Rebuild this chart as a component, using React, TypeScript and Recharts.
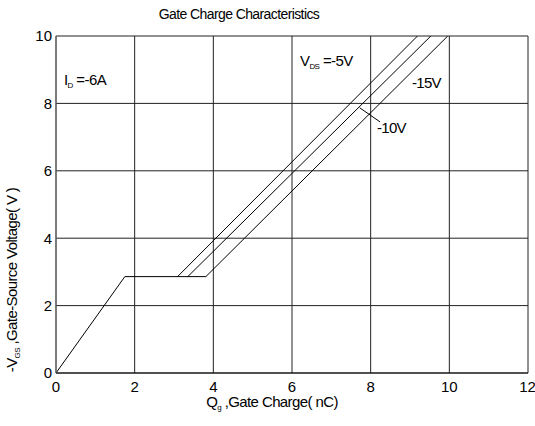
import React from 'react';
import { LineChart, Line, XAxis, YAxis, CartesianGrid, ReferenceLine } from 'recharts';

const xTicks = [0, 2, 4, 6, 8, 10, 12];
const yTicks = [0, 2, 4, 6, 8, 10];
// -15V curve carries the common rise and plateau
const vds15 = [
  { q: 0, v: 0 },
  { q: 1.75, v: 2.86 },
  { q: 3.81, v: 2.86 },
  { q: 9.96, v: 10 },
];
// -5V and -10V branch off the shared plateau
const vds5 = [
  { q: 3.09, v: 2.86 },
  { q: 9.19, v: 10 },
];
const vds10 = [
  { q: 3.35, v: 2.86 },
  { q: 9.53, v: 10 },
];
const leader = [
  { x: 7.72, y: 7.87 },
  { x: 8.24, y: 7.45 },
];

const FONT = '"Liberation Sans", Arial, sans-serif';

export default function App() {
  return (
    <div style={{ position: 'absolute', left: 0, top: 0, width: 535, height: 426, background: '#fff' }}>
      <LineChart width={535} height={426} margin={{ top: 36, right: 7, left: 0, bottom: 0 }}>
        <CartesianGrid stroke="#222" strokeWidth={1} />
        <XAxis
          type="number"
          dataKey="q"
          domain={[0, 12]}
          ticks={xTicks}
          height={53}
          tickSize={0}
          tickMargin={8}
          axisLine={{ stroke: '#111' }}
          tickLine={false}
          tick={{ fill: '#000', fontSize: 15, fontFamily: FONT }}
          allowDataOverflow
        />
        <YAxis
          type="number"
          domain={[0, 10]}
          ticks={yTicks}
          width={56}
          tickSize={0}
          tickMargin={4}
          axisLine={{ stroke: '#666' }}
          tickLine={false}
          tick={{ fill: '#000', fontSize: 15, fontFamily: FONT }}
          allowDataOverflow
        />
        <Line data={vds15} dataKey="v" type="linear" stroke="#000" strokeWidth={1} dot={false} isAnimationActive={false} />
        <Line data={vds5} dataKey="v" type="linear" stroke="#000" strokeWidth={1} dot={false} isAnimationActive={false} />
        <Line data={vds10} dataKey="v" type="linear" stroke="#000" strokeWidth={1} dot={false} isAnimationActive={false} />
        <ReferenceLine segment={leader} stroke="#000" strokeWidth={1} ifOverflow="visible" />
      </LineChart>
      <svg
        width={535}
        height={426}
        style={{ position: 'absolute', left: 0, top: 0, pointerEvents: 'none' }}
        fontFamily={FONT}
      >
        <text x={239} y={19} textAnchor="middle" fontSize={14} letterSpacing={-0.6}>
          Gate Charge Characteristics
        </text>
        <text x={272} y={407} textAnchor="middle" fontSize={15} letterSpacing={-0.6}>
          Q<tspan fontSize={8} dy={3}>g</tspan>
          <tspan dy={-3}> ,Gate Charge( nC)</tspan>
        </text>
        <text
          x={0}
          y={0}
          transform="translate(17,280) rotate(-90)"
          textAnchor="middle"
          fontSize={15}
          letterSpacing={-0.6}
        >
          -V<tspan fontSize={8} dy={3}>GS</tspan>
          <tspan dy={-3}> ,Gate-Source Voltage( V )</tspan>
        </text>
        <text x={64} y={85} fontSize={15} letterSpacing={-0.6}>
          I<tspan fontSize={8} dy={3}>D</tspan>
          <tspan dy={-3}> =-6A</tspan>
        </text>
        <text x={300} y={66} fontSize={15} letterSpacing={-0.6}>
          V<tspan fontSize={8} dy={3}>DS</tspan>
          <tspan dy={-3}> =-5V</tspan>
        </text>
        <text x={412} y={88} fontSize={15} letterSpacing={-0.7}>
          -15V
        </text>
        <text x={377} y={133} fontSize={15} letterSpacing={-0.7}>
          -10V
        </text>
      </svg>
    </div>
  );
}
